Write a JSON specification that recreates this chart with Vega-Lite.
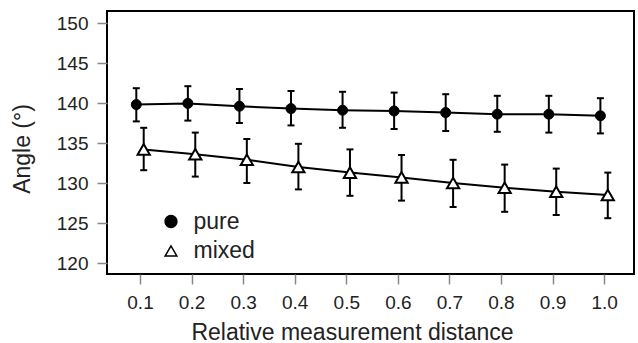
{
  "$schema": "https://vega.github.io/schema/vega-lite/v6.json",
  "width": 527,
  "height": 263,
  "autosize": {"type": "none"},
  "padding": {"left": 107, "top": 11, "right": 4, "bottom": 69},
  "background": "white",
  "config": {
    "font": "Liberation Sans",
    "view": {"stroke": "black", "strokeWidth": 2},
    "axis": {
      "domain": false,
      "grid": false,
      "tickSize": 10,
      "tickColor": "#888888",
      "tickWidth": 1.5,
      "labelFontSize": 19,
      "labelColor": "#222222",
      "labelPadding": 9,
      "titleFontSize": 23,
      "titleFontWeight": "normal",
      "titleColor": "#222222"
    },
    "axisY": {
      "values": [120, 125, 130, 135, 140, 145, 150],
      "titleX": -77.5,
      "titleY": 137.5,
      "titleAngle": -90,
      "titleBaseline": "alphabetic",
      "titleAlign": "center"
    },
    "legend": {
      "title": null,
      "labelFontSize": 23,
      "labelColor": "#222222",
      "labelOffset": 11,
      "rowPadding": 5.5,
      "padding": 0,
      "symbolSize": 140,
      "symbolStrokeColor": "black",
      "symbolStrokeWidth": 1.5
    }
  },
  "data": {
    "values": [
      {"d": 0.1, "series": "pure", "mean": 139.8, "lo": 137.7, "hi": 141.85},
      {"d": 0.2, "series": "pure", "mean": 139.95, "lo": 137.8, "hi": 142.1},
      {"d": 0.3, "series": "pure", "mean": 139.6, "lo": 137.5, "hi": 141.75},
      {"d": 0.4, "series": "pure", "mean": 139.3, "lo": 137.2, "hi": 141.5},
      {"d": 0.5, "series": "pure", "mean": 139.1, "lo": 136.9, "hi": 141.4},
      {"d": 0.6, "series": "pure", "mean": 139.0, "lo": 136.75, "hi": 141.3},
      {"d": 0.7, "series": "pure", "mean": 138.8, "lo": 136.5, "hi": 141.1},
      {"d": 0.8, "series": "pure", "mean": 138.6, "lo": 136.4, "hi": 140.9},
      {"d": 0.9, "series": "pure", "mean": 138.6, "lo": 136.3, "hi": 140.9},
      {"d": 1.0, "series": "pure", "mean": 138.4, "lo": 136.2, "hi": 140.6},
      {"d": 0.1, "series": "mixed", "mean": 134.2, "lo": 131.6, "hi": 136.9},
      {"d": 0.2, "series": "mixed", "mean": 133.6, "lo": 130.8, "hi": 136.3},
      {"d": 0.3, "series": "mixed", "mean": 132.9, "lo": 130.0, "hi": 135.5},
      {"d": 0.4, "series": "mixed", "mean": 132.0, "lo": 129.2, "hi": 134.9},
      {"d": 0.5, "series": "mixed", "mean": 131.3, "lo": 128.4, "hi": 134.2},
      {"d": 0.6, "series": "mixed", "mean": 130.7, "lo": 127.8, "hi": 133.5},
      {"d": 0.7, "series": "mixed", "mean": 130.0, "lo": 127.0, "hi": 132.9},
      {"d": 0.8, "series": "mixed", "mean": 129.4, "lo": 126.4, "hi": 132.3},
      {"d": 0.9, "series": "mixed", "mean": 128.9, "lo": 126.0, "hi": 131.8},
      {"d": 1.0, "series": "mixed", "mean": 128.5, "lo": 125.6, "hi": 131.3}
    ]
  },
  "encoding": {
    "x": {
      "field": "d",
      "type": "quantitative",
      "scale": {"domain": [0.036, 1.058], "nice": false, "zero": false},
      "axis": {
        "values": [0.1, 0.2, 0.3, 0.4, 0.5, 0.6, 0.7, 0.8, 0.9, 1.0],
        "format": ".1f",
        "title": "Relative measurement distance",
        "titleX": 245,
        "titleY": 65,
        "titleBaseline": "alphabetic",
        "titleAnchor": "middle",
        "titleAlign": "center"
      }
    }
  },
  "layer": [
    {
      "transform": [{"filter": "datum.series === 'pure'"}],
      "layer": [
        {
          "mark": {"type": "line", "xOffset": -3.7, "color": "black", "strokeWidth": 2},
          "encoding": {
            "y": {"field": "mean", "type": "quantitative", "scale": {"domain": [118.625, 151.5], "nice": false, "zero": false}, "axis": {"title": "Angle (°)"}}
          }
        },
        {
          "mark": {"type": "rule", "xOffset": -3.7, "color": "black", "strokeWidth": 2},
          "encoding": {
            "y": {"field": "lo", "type": "quantitative", "scale": {"domain": [118.625, 151.5], "nice": false, "zero": false}, "axis": {"title": "Angle (°)"}},
            "y2": {"field": "hi"}
          }
        },
        {
          "mark": {"type": "point", "xOffset": -3.7, "shape": "M-1,0L1,0", "size": 49, "filled": false, "stroke": "black", "strokeWidth": 2, "opacity": 1},
          "encoding": {
            "y": {"field": "hi", "type": "quantitative", "scale": {"domain": [118.625, 151.5], "nice": false, "zero": false}, "axis": {"title": "Angle (°)"}}
          }
        },
        {
          "mark": {"type": "point", "xOffset": -3.7, "shape": "M-1,0L1,0", "size": 49, "filled": false, "stroke": "black", "strokeWidth": 2, "opacity": 1},
          "encoding": {
            "y": {"field": "lo", "type": "quantitative", "scale": {"domain": [118.625, 151.5], "nice": false, "zero": false}, "axis": {"title": "Angle (°)"}}
          }
        },
        {
          "mark": {"type": "point", "xOffset": -3.7, "filled": true, "strokeWidth": 1, "size": 100, "opacity": 1},
          "encoding": {
            "y": {"field": "mean", "type": "quantitative", "scale": {"domain": [118.625, 151.5], "nice": false, "zero": false}, "axis": {"title": "Angle (°)"}},
            "shape": {
              "field": "series", "type": "nominal",
              "scale": {"domain": ["pure", "mixed"], "range": ["circle", "triangle-up"]},
              "legend": {"orient": "none", "legendX": 52.5, "legendY": 199}
            },
            "fill": {
              "field": "series", "type": "nominal",
              "scale": {"domain": ["pure", "mixed"], "range": ["black", "white"]},
              "legend": {"orient": "none", "legendX": 52.5, "legendY": 199}
            },
            "stroke": {
              "field": "series", "type": "nominal",
              "scale": {"domain": ["pure", "mixed"], "range": ["black", "black"]},
              "legend": {"orient": "none", "legendX": 52.5, "legendY": 199}
            }
          }
        }
      ]
    },
    {
      "transform": [{"filter": "datum.series === 'mixed'"}],
      "layer": [
        {
          "mark": {"type": "line", "xOffset": 3.7, "color": "black", "strokeWidth": 2},
          "encoding": {
            "y": {"field": "mean", "type": "quantitative", "scale": {"domain": [118.625, 151.5], "nice": false, "zero": false}, "axis": {"title": "Angle (°)"}}
          }
        },
        {
          "mark": {"type": "rule", "xOffset": 3.7, "color": "black", "strokeWidth": 2},
          "encoding": {
            "y": {"field": "lo", "type": "quantitative", "scale": {"domain": [118.625, 151.5], "nice": false, "zero": false}, "axis": {"title": "Angle (°)"}},
            "y2": {"field": "hi"}
          }
        },
        {
          "mark": {"type": "point", "xOffset": 3.7, "shape": "M-1,0L1,0", "size": 49, "filled": false, "stroke": "black", "strokeWidth": 2, "opacity": 1},
          "encoding": {
            "y": {"field": "hi", "type": "quantitative", "scale": {"domain": [118.625, 151.5], "nice": false, "zero": false}, "axis": {"title": "Angle (°)"}}
          }
        },
        {
          "mark": {"type": "point", "xOffset": 3.7, "shape": "M-1,0L1,0", "size": 49, "filled": false, "stroke": "black", "strokeWidth": 2, "opacity": 1},
          "encoding": {
            "y": {"field": "lo", "type": "quantitative", "scale": {"domain": [118.625, 151.5], "nice": false, "zero": false}, "axis": {"title": "Angle (°)"}}
          }
        },
        {
          "mark": {"type": "point", "xOffset": 3.7, "filled": true, "strokeWidth": 2, "size": 150, "opacity": 1},
          "encoding": {
            "y": {"field": "mean", "type": "quantitative", "scale": {"domain": [118.625, 151.5], "nice": false, "zero": false}, "axis": {"title": "Angle (°)"}},
            "shape": {
              "field": "series", "type": "nominal",
              "scale": {"domain": ["pure", "mixed"], "range": ["circle", "triangle-up"]},
              "legend": {"orient": "none", "legendX": 52.5, "legendY": 199}
            },
            "fill": {
              "field": "series", "type": "nominal",
              "scale": {"domain": ["pure", "mixed"], "range": ["black", "white"]},
              "legend": {"orient": "none", "legendX": 52.5, "legendY": 199}
            },
            "stroke": {
              "field": "series", "type": "nominal",
              "scale": {"domain": ["pure", "mixed"], "range": ["black", "black"]},
              "legend": {"orient": "none", "legendX": 52.5, "legendY": 199}
            }
          }
        }
      ]
    }
  ]
}
